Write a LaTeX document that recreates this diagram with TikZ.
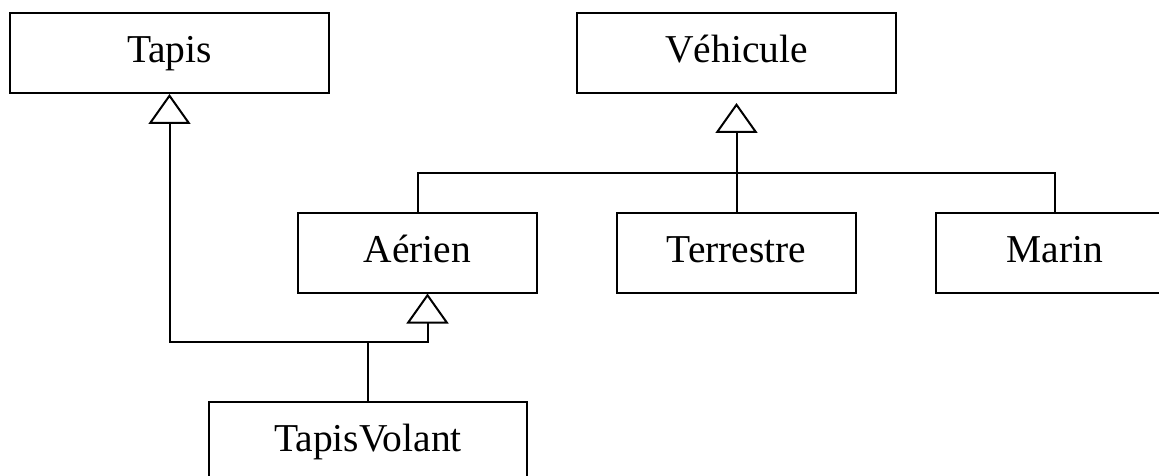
\documentclass[tikz,border=0pt]{standalone}
\usepackage{fontspec}
\setmainfont{Liberation Serif}
\usetikzlibrary{arrows.meta}

\begin{document}
\begin{tikzpicture}[x=1pt,y=-1pt,line width=2pt,
   classbox/.style={draw,inner sep=0pt,minimum height=80pt,
      text height=27pt,text depth=8pt,
      font=\fontsize{39.5}{46}\selectfont},
   inherit/.style={-{Triangle[open,width=42pt,length=30pt]}}]
   \clip (0,0) rectangle (1159,476);
   \node[classbox,minimum width=319pt] (Tapis)       at (169.5,53)   {Tapis};
   \node[classbox,minimum width=319pt] (Vehicule)    at (736.5,53)   {Véhicule};
   \node[classbox,minimum width=239pt] (Aerien)      at (417.5,252.5) {Aérien};
   \node[classbox,minimum width=239pt] (Terrestre)   at (736.5,252.5) {Terrestre};
   \node[classbox,minimum width=238pt] (Marin)       at (1055,252.5)  {Marin};
   \node[classbox,minimum width=318pt] (TapisVolant) at (368,442)    {TapisVolant};
   \coordinate (veh bus) at (736.5,173);
   \coordinate (tv split) at (368,342);
   \draw (Aerien.north) |- (veh bus) -| (Marin.north);
   \draw[inherit,shorten >=9pt] (Terrestre.north) -- (Vehicule.south);
   \draw (TapisVolant.north) -- (tv split);
   \draw[inherit] (tv split) -| (Tapis.south);
   \draw[inherit] (tv split) -| ([xshift=10pt]Aerien.south);
\end{tikzpicture}
\end{document}
